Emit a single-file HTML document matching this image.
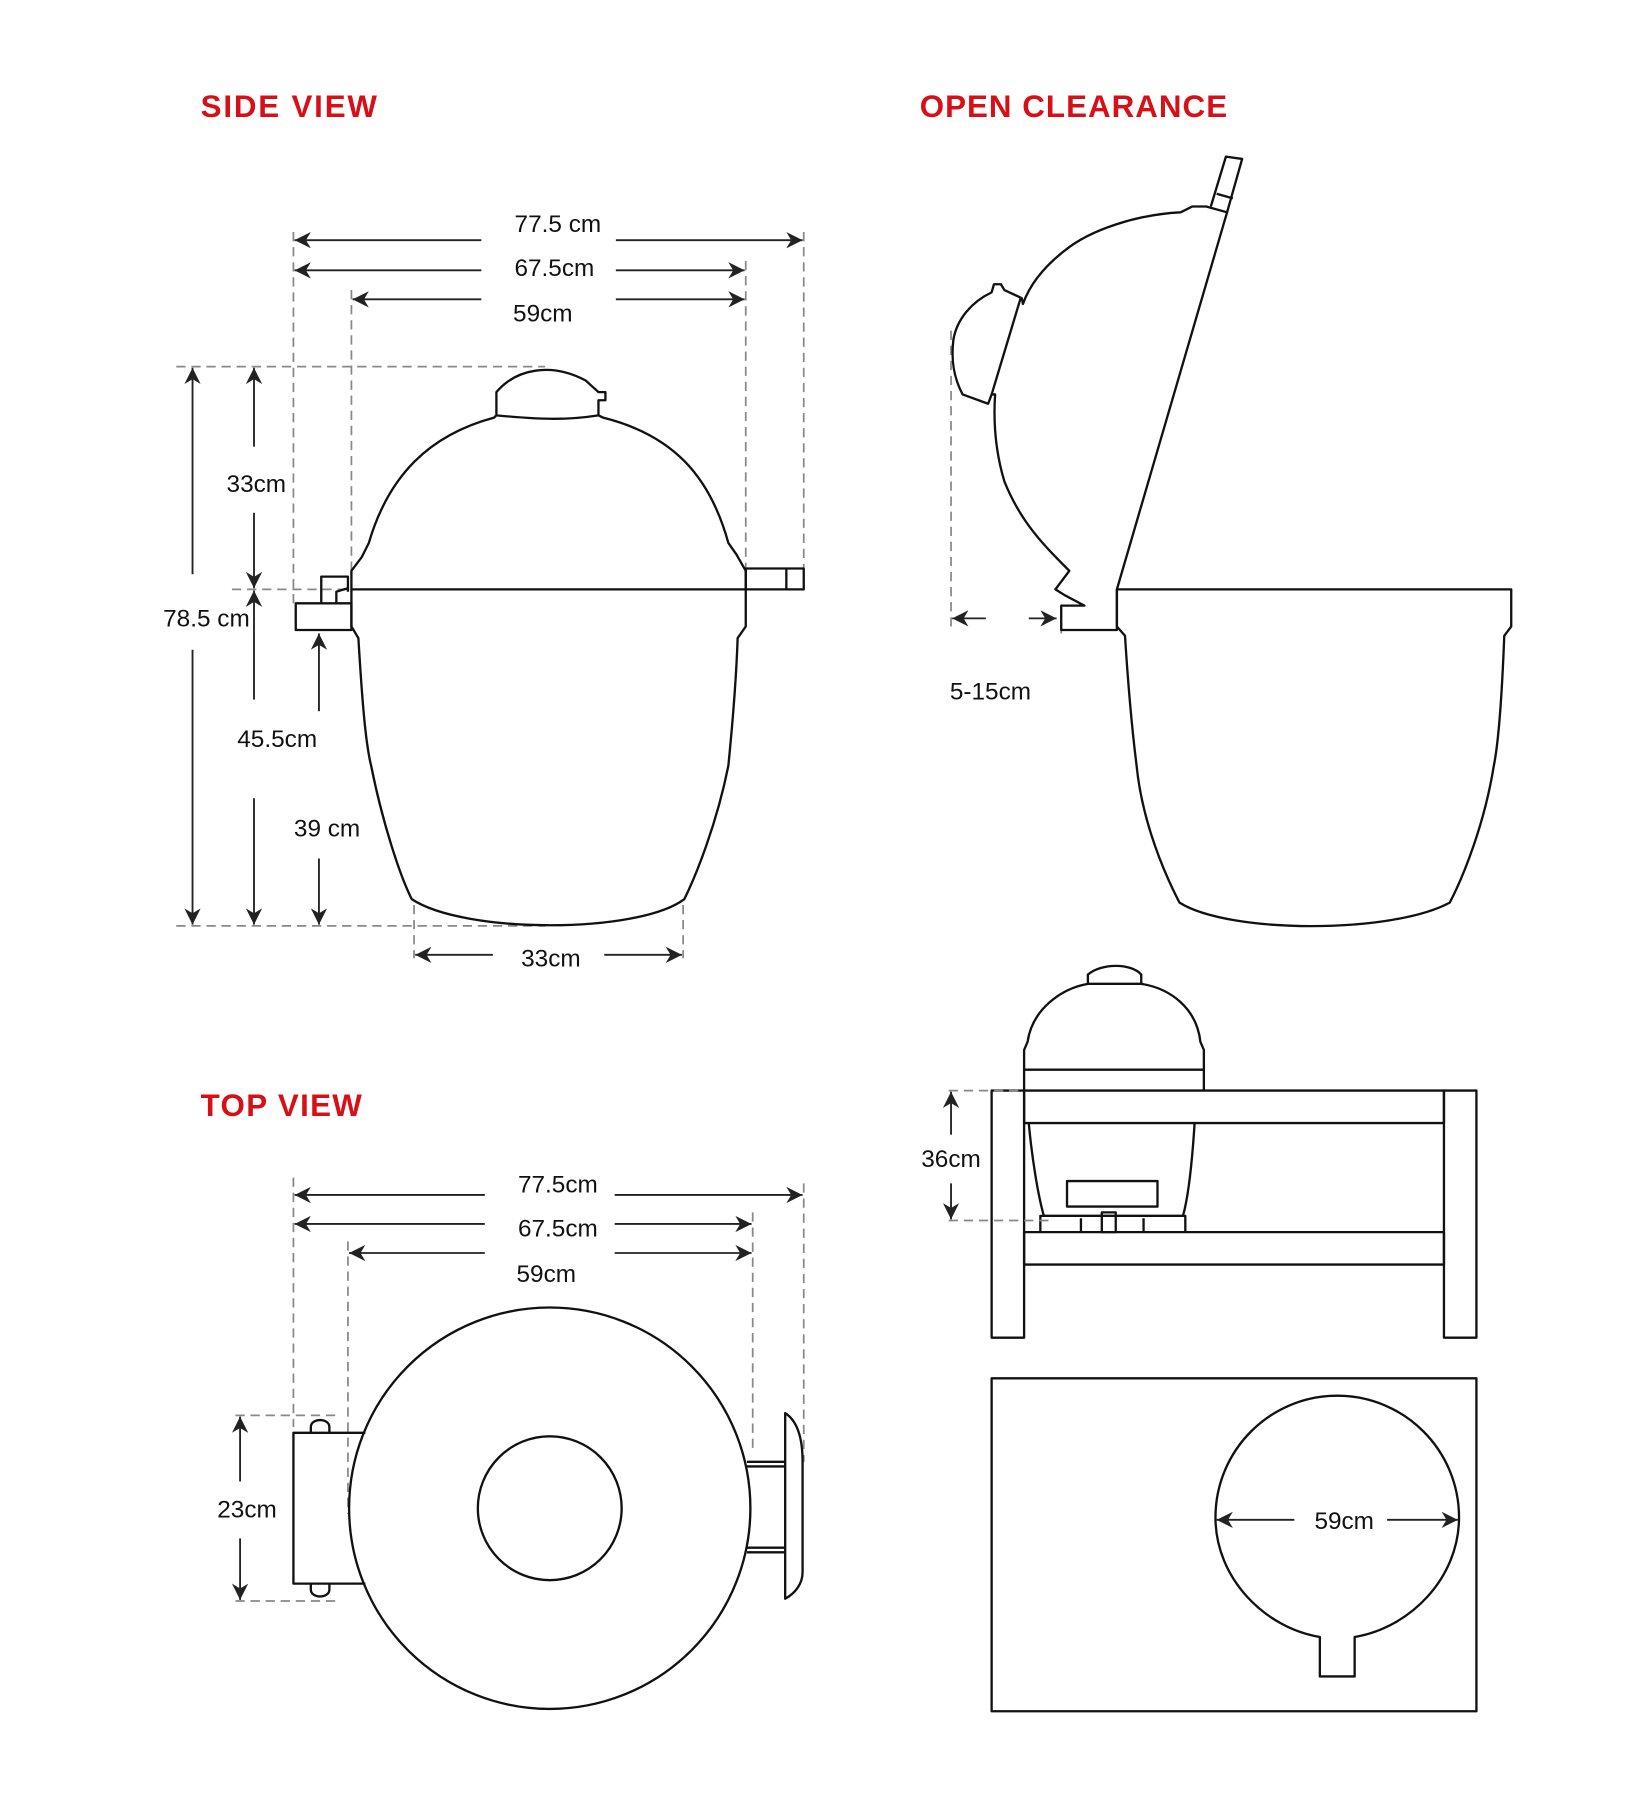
<!DOCTYPE html>
<html><head><meta charset="utf-8"><style>
html,body{margin:0;padding:0;background:#fff;}
svg{display:block;}
.t{font-family:"Liberation Sans",sans-serif;font-size:21px;fill:#111;}
.h{font-family:"Liberation Sans",sans-serif;font-size:27px;font-weight:bold;fill:#d90f17;}
.s{fill:none;stroke:#111;stroke-width:2;stroke-linejoin:round;}
.d{fill:none;stroke:#888;stroke-width:1.5;stroke-dasharray:8 5;}
.a{stroke:#222;stroke-width:1.6;fill:none;}
</style></head><body>
<svg width="1633" height="1818" viewBox="0 0 1408 1567" preserveAspectRatio="none">
<defs>
<marker id="ar" viewBox="0 0 10 10" refX="10" refY="5" markerWidth="14" markerHeight="14" markerUnits="userSpaceOnUse" orient="auto-start-reverse"><path d="M0,0 L10,5 L0,10 L3,5 z" fill="#222"/></marker>
</defs>

<text class="h" x="173" y="101" textLength="152" lengthAdjust="spacing">SIDE VIEW</text>
<text class="h" x="793" y="101" textLength="265" lengthAdjust="spacing">OPEN CLEARANCE</text>
<text class="h" x="173" y="962" textLength="139" lengthAdjust="spacing">TOP VIEW</text>

<!-- SIDE VIEW dashed -->
<line class="d" x1="253" y1="200" x2="253" y2="520"/>
<line class="d" x1="303" y1="250" x2="303" y2="500"/>
<line class="d" x1="643" y1="225" x2="643" y2="492"/>
<line class="d" x1="693" y1="200" x2="693" y2="490"/>
<line class="d" x1="152" y1="316" x2="470" y2="316"/>
<line class="d" x1="200" y1="508" x2="300" y2="508"/>
<line class="d" x1="152" y1="798" x2="470" y2="798"/>
<line class="d" x1="357" y1="780" x2="357" y2="826"/>
<line class="d" x1="589" y1="780" x2="589" y2="826"/>

<!-- horizontal dims -->
<line class="a" x1="415" y1="207" x2="254" y2="207" marker-end="url(#ar)"/>
<line class="a" x1="531" y1="207" x2="692" y2="207" marker-end="url(#ar)"/>
<text class="t" x="481" y="200" text-anchor="middle">77.5 cm</text>
<line class="a" x1="415" y1="233" x2="254" y2="233" marker-end="url(#ar)"/>
<line class="a" x1="531" y1="233" x2="642" y2="233" marker-end="url(#ar)"/>
<text class="t" x="478" y="238" text-anchor="middle">67.5cm</text>
<line class="a" x1="415" y1="258" x2="304" y2="258" marker-end="url(#ar)"/>
<line class="a" x1="531" y1="258" x2="642" y2="258" marker-end="url(#ar)"/>
<text class="t" x="468" y="277" text-anchor="middle">59cm</text>
<line class="a" x1="425" y1="823" x2="358" y2="823" marker-end="url(#ar)"/>
<line class="a" x1="521" y1="823" x2="588" y2="823" marker-end="url(#ar)"/>
<text class="t" x="475" y="833" text-anchor="middle">33cm</text>

<!-- vertical dims -->
<line class="a" x1="166" y1="495" x2="166" y2="317" marker-end="url(#ar)"/>
<line class="a" x1="166" y1="560" x2="166" y2="797" marker-end="url(#ar)"/>
<text class="t" x="178" y="540" text-anchor="middle">78.5 cm</text>
<line class="a" x1="219" y1="385" x2="219" y2="317" marker-end="url(#ar)"/>
<line class="a" x1="219" y1="442" x2="219" y2="507" marker-end="url(#ar)"/>
<text class="t" x="221" y="424" text-anchor="middle">33cm</text>
<line class="a" x1="219" y1="603" x2="219" y2="509" marker-end="url(#ar)"/>
<line class="a" x1="219" y1="688" x2="219" y2="797" marker-end="url(#ar)"/>
<text class="t" x="239" y="644" text-anchor="middle">45.5cm</text>
<line class="a" x1="275" y1="613" x2="275" y2="546" marker-end="url(#ar)"/>
<line class="a" x1="275" y1="740" x2="275" y2="797" marker-end="url(#ar)"/>
<text class="t" x="282" y="721" text-anchor="middle">39 cm</text>

<!-- side grill -->
<path class="s" d="M303,508 L303,492 L312,480 L318,468 C335,410 370,375 426,360 L428,358 L428,338 C445,318 475,312 505,328 L516,338 L522,338 L522,345 L516,345 L516,358 L520,360 C580,375 612,410 628,468 L635,478 L643,492 L643,508 Z"/>
<path class="s" d="M428,358 C470,362 490,362 516,358"/>
<path class="s" d="M303,508 L303,540 L309,550 C312,600 315,640 320,660 C330,710 345,755 355,775 C400,805 550,805 590,775 C600,755 618,710 628,660 C632,620 635,580 636,550 L643,540 L643,508"/>
<rect class="s" x="255" y="520" width="48" height="23"/>
<path class="s" d="M277,520 L277,497 L300,497 L300,510"/>
<path class="s" d="M290,520 L290,510 L300,507"/>
<rect class="s" x="643" y="490" width="50" height="18"/>
<line class="s" x1="678" y1="490" x2="678" y2="508"/>

<!-- OPEN CLEARANCE -->
<line class="d" x1="820" y1="285" x2="820" y2="542"/>
<line class="d" x1="915" y1="525" x2="915" y2="548"/>
<line class="a" x1="850" y1="533" x2="821" y2="533" marker-end="url(#ar)"/>
<line class="a" x1="887" y1="533" x2="911" y2="533" marker-end="url(#ar)"/>
<text class="t" x="854" y="603" text-anchor="middle">5-15cm</text>
<path class="s" d="M963,508 L1058,183 L1040,178 L1028,178 L1018,183 C980,185 940,198 918,216 C900,230 888,245 882,262 L881,257 L866,250 L863,245 L857,245 L855,252 C838,260 825,275 822,293 C820,310 822,325 830,340 L852,348 L855,340 L858,340 C856,370 860,395 866,415 C880,450 900,470 922,492 L910,508 L918,513 L935,522 L915,522 L915,543 L963,543 Z"/>
<path class="s" d="M855,340 L880,257"/>
<path class="s" d="M1044,178 L1057,135 L1071,137 L1058,183 M1049,167 L1063,171"/>
<path class="s" d="M963,508 L1303,508 L1303,540 L1297,548 C1295,600 1292,640 1288,660 C1280,710 1262,755 1250,778 C1200,805 1060,805 1017,778 C1005,755 985,710 980,660 C975,620 972,580 970,548 L963,540 Z"/>

<!-- table side -->
<path class="s" d="M883,940 L883,905 L886,898 C890,870 915,852 938,848 L938,840 C950,830 975,830 984,840 L984,848 C1010,852 1032,870 1035,898 L1038,905 L1038,940"/>
<path class="s" d="M938,848 L984,848"/>
<line class="s" x1="883" y1="922" x2="1038" y2="922"/>
<rect class="s" x="855" y="940" width="28" height="213"/>
<rect class="s" x="1245" y="940" width="28" height="213"/>
<rect class="s" x="883" y="940" width="362" height="28"/>
<rect class="s" x="883" y="1062" width="362" height="28"/>
<path class="s" d="M887,968 C890,1000 895,1030 900,1048 L1020,1048 C1025,1030 1028,1000 1030,968"/>
<rect class="s" x="920" y="1018" width="78" height="22"/>
<path class="s" d="M897,1062 L897,1048 L1022,1048 L1022,1062 M932,1050 L932,1062 M950,1045 L962,1045 L962,1062 L950,1062 Z M986,1050 L986,1062"/>
<line class="d" x1="818" y1="940" x2="882" y2="940"/>
<line class="d" x1="818" y1="1052" x2="905" y2="1052"/>
<line class="a" x1="820" y1="978" x2="820" y2="941" marker-end="url(#ar)"/>
<line class="a" x1="820" y1="1020" x2="820" y2="1051" marker-end="url(#ar)"/>
<text class="t" x="820" y="1006" text-anchor="middle">36cm</text>

<!-- table top view -->
<rect class="s" x="855" y="1188" width="418" height="287"/>
<path class="s" d="M1138,1411 C1090,1403 1048,1360 1048,1308 C1048,1250 1095,1203 1153,1203 C1211,1203 1258,1250 1258,1308 C1258,1360 1216,1403 1168,1411 L1168,1445 L1138,1445 Z"/>
<line class="a" x1="1116" y1="1310" x2="1049" y2="1310" marker-end="url(#ar)"/>
<line class="a" x1="1196" y1="1310" x2="1257" y2="1310" marker-end="url(#ar)"/>
<text class="t" x="1159" y="1318" text-anchor="middle">59cm</text>

<!-- TOP VIEW -->
<line class="d" x1="253" y1="1015" x2="253" y2="1230"/>
<line class="d" x1="300" y1="1070" x2="300" y2="1305"/>
<line class="d" x1="649" y1="1045" x2="649" y2="1250"/>
<line class="d" x1="693" y1="1020" x2="693" y2="1260"/>
<line class="a" x1="418" y1="1030" x2="254" y2="1030" marker-end="url(#ar)"/>
<line class="a" x1="530" y1="1030" x2="692" y2="1030" marker-end="url(#ar)"/>
<text class="t" x="481" y="1028" text-anchor="middle">77.5cm</text>
<line class="a" x1="418" y1="1055" x2="254" y2="1055" marker-end="url(#ar)"/>
<line class="a" x1="530" y1="1055" x2="648" y2="1055" marker-end="url(#ar)"/>
<text class="t" x="481" y="1066" text-anchor="middle">67.5cm</text>
<line class="a" x1="418" y1="1080" x2="301" y2="1080" marker-end="url(#ar)"/>
<line class="a" x1="530" y1="1080" x2="648" y2="1080" marker-end="url(#ar)"/>
<text class="t" x="471" y="1105" text-anchor="middle">59cm</text>
<line class="d" x1="203" y1="1220" x2="290" y2="1220"/>
<line class="d" x1="203" y1="1380" x2="290" y2="1380"/>
<line class="a" x1="207" y1="1277" x2="207" y2="1221" marker-end="url(#ar)"/>
<line class="a" x1="207" y1="1326" x2="207" y2="1379" marker-end="url(#ar)"/>
<text class="t" x="213" y="1308" text-anchor="middle">23cm</text>
<path class="s" d="M315,1235 L253,1235 L253,1365 L315,1365"/>
<path class="s" d="M268,1235 L268,1230 C268,1222 284,1222 284,1230 L284,1235 M268,1365 L268,1370 C268,1378 284,1378 284,1370 L284,1365"/>
<circle class="s" cx="474" cy="1300" r="173"/>
<circle class="s" cx="474" cy="1300" r="62"/>
<path class="s" d="M644,1260 L677,1260 M644,1264 L677,1264 M644,1334 L677,1334 M644,1338 L677,1338"/>
<path class="s" d="M677,1218 C688,1225 692,1240 692,1260 L692,1355 C692,1365 686,1373 677,1378 Z"/>
</svg>
</body></html>
